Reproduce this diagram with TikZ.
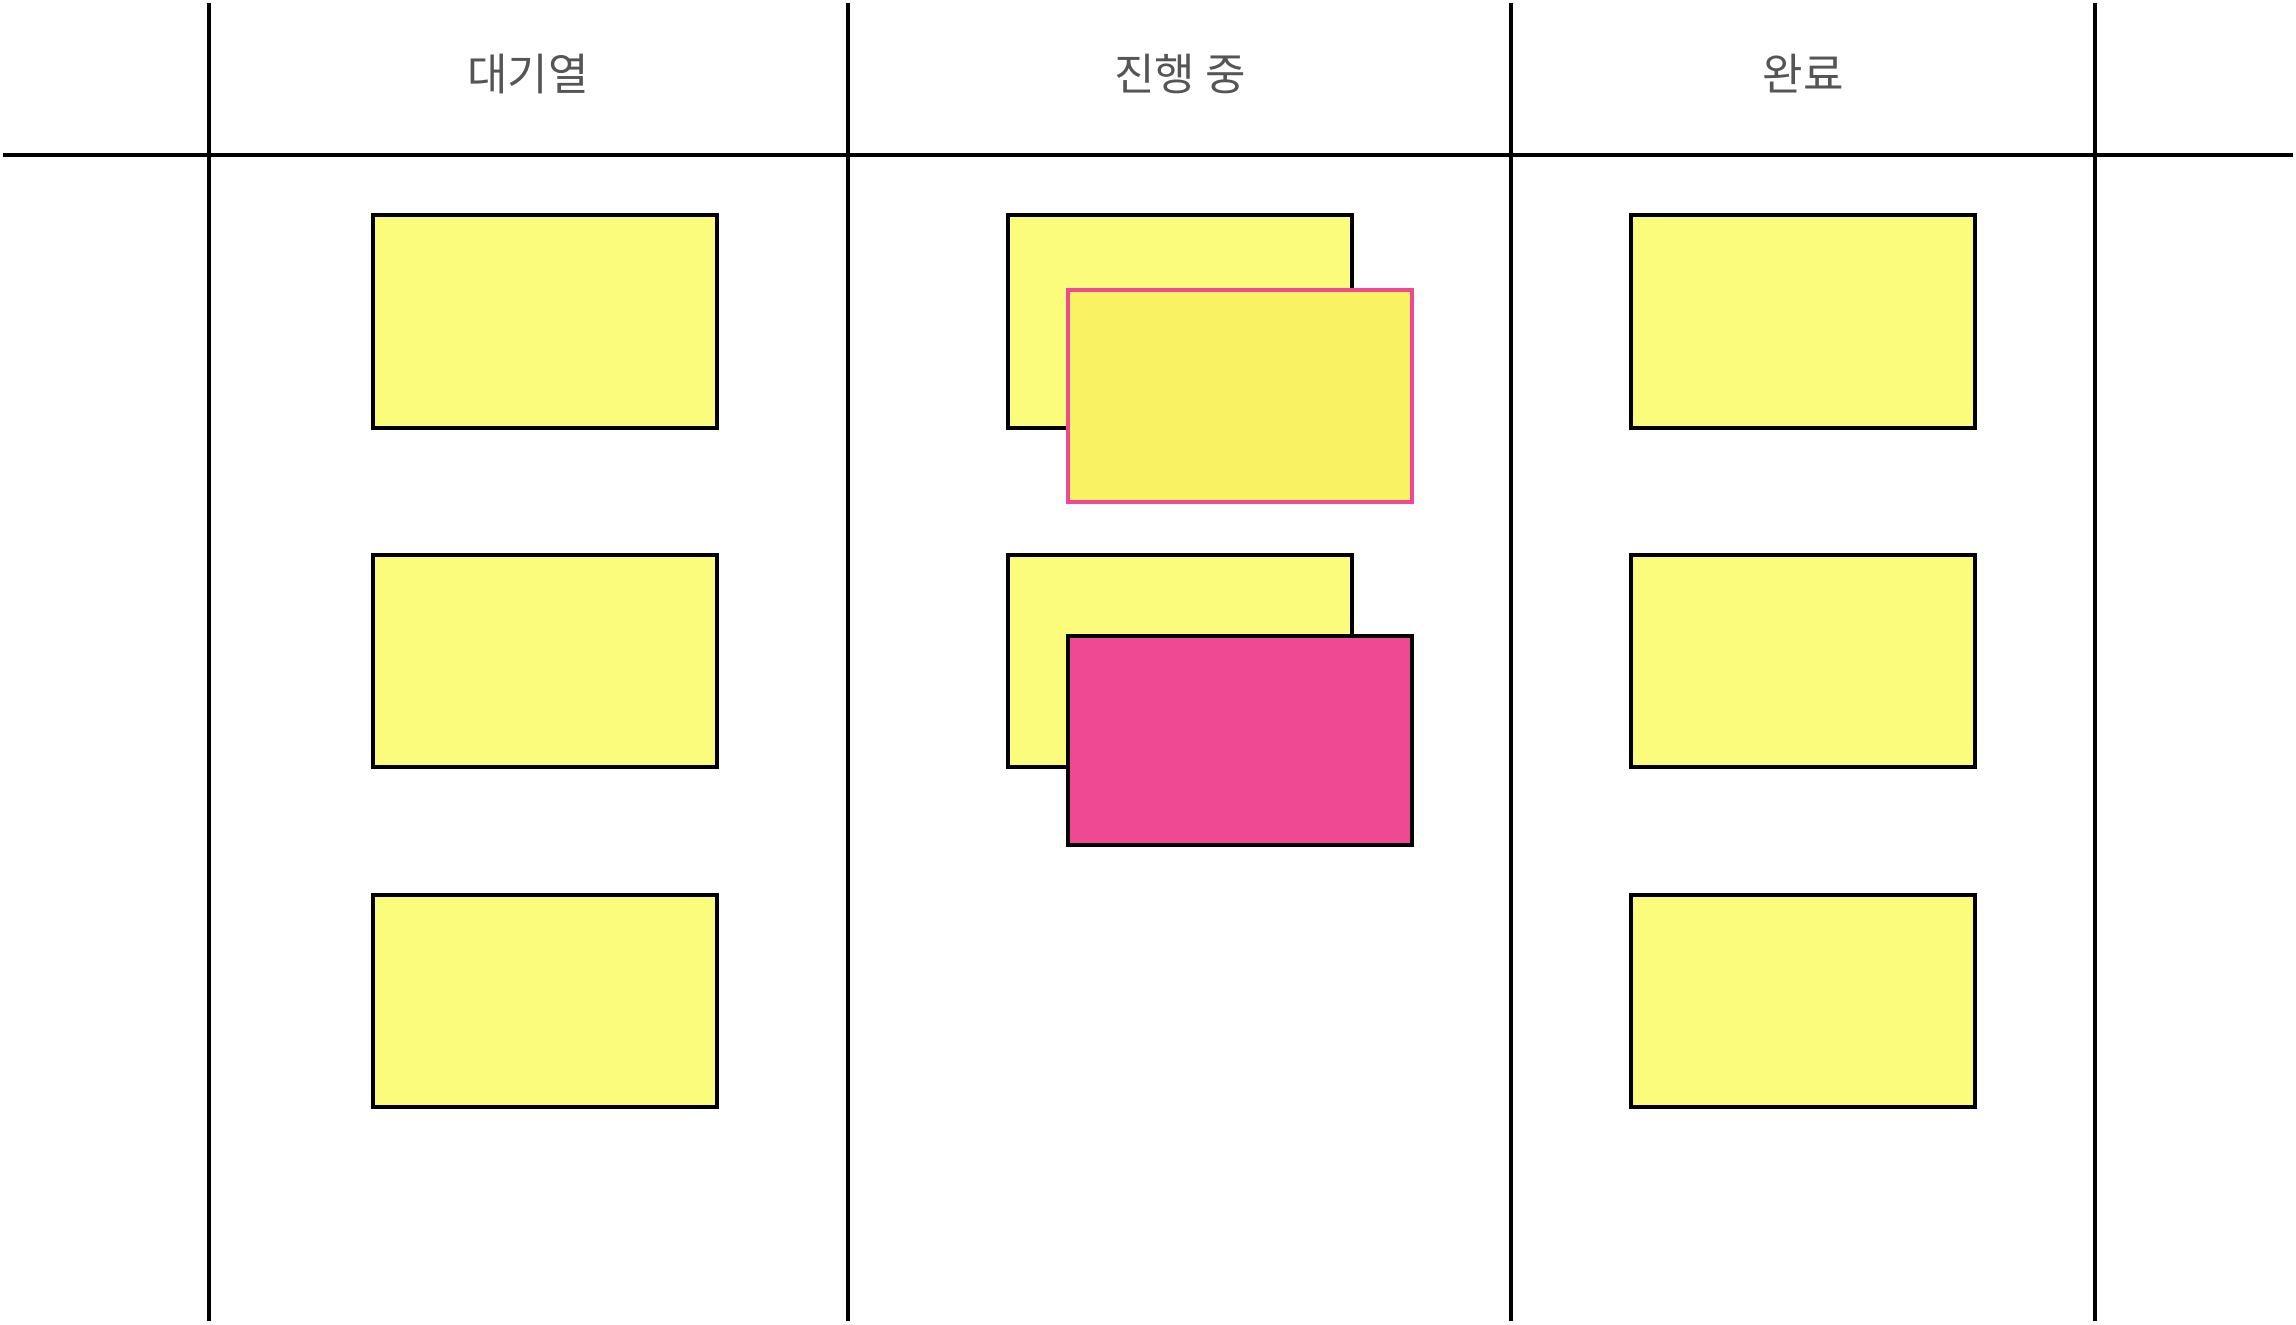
\documentclass[tikz,border=0pt]{standalone}
\usepackage{fontspec}
\newfontfamily\kr{Noto Sans CJK KR}
\definecolor{noteyellow}{HTML}{FBFC7C}
\definecolor{noteyellowb}{HTML}{F9F262}
\definecolor{notepink}{HTML}{EF4993}
\definecolor{headgray}{HTML}{555555}
\tikzset{
  grid/.style={line width=1.6pt, black},
  note/.style={draw=black, line width=1.6pt, fill=noteyellow},
  head/.style={font=\kr\fontsize{22}{26}\selectfont, text=headgray, inner sep=0pt, anchor=center}
}
\begin{document}
\begin{tikzpicture}[x=0.5pt,y=-0.5pt]
\useasboundingbox (0,0) rectangle (2296,1324);
% grid
\coordinate (hl) at (3,155);
\coordinate (hr) at (2293,155);
\draw[grid] (hl) -- (hr);
\foreach \x/\n in {209/a,848/b,1511/c,2095/d}{
  \coordinate (t\n) at (\x,3);
  \coordinate (b\n) at (\x,1321);
  \draw[grid] (t\n) -- (b\n);
}
% headers
\node[head] (h1) at (528,74) {대기열};
\node[head] (h2) at (1180,74) {진행 중};
\node[head] (h3) at (1803,74) {완료};
% column 1
\draw[note] (373,215) rectangle (717,428);
\draw[note] (373,555) rectangle (717,767);
\draw[note] (373,895) rectangle (717,1107);
% column 2
\draw[note] (1008,215) rectangle (1352,428);
\draw[note, draw=notepink, fill=noteyellowb] (1068,290) rectangle (1412,502);
\draw[note] (1008,555) rectangle (1352,767);
\draw[note, fill=notepink] (1068,636) rectangle (1412,845);
% column 3
\draw[note] (1631,215) rectangle (1975,428);
\draw[note] (1631,555) rectangle (1975,767);
\draw[note] (1631,895) rectangle (1975,1107);
\end{tikzpicture}
\end{document}
